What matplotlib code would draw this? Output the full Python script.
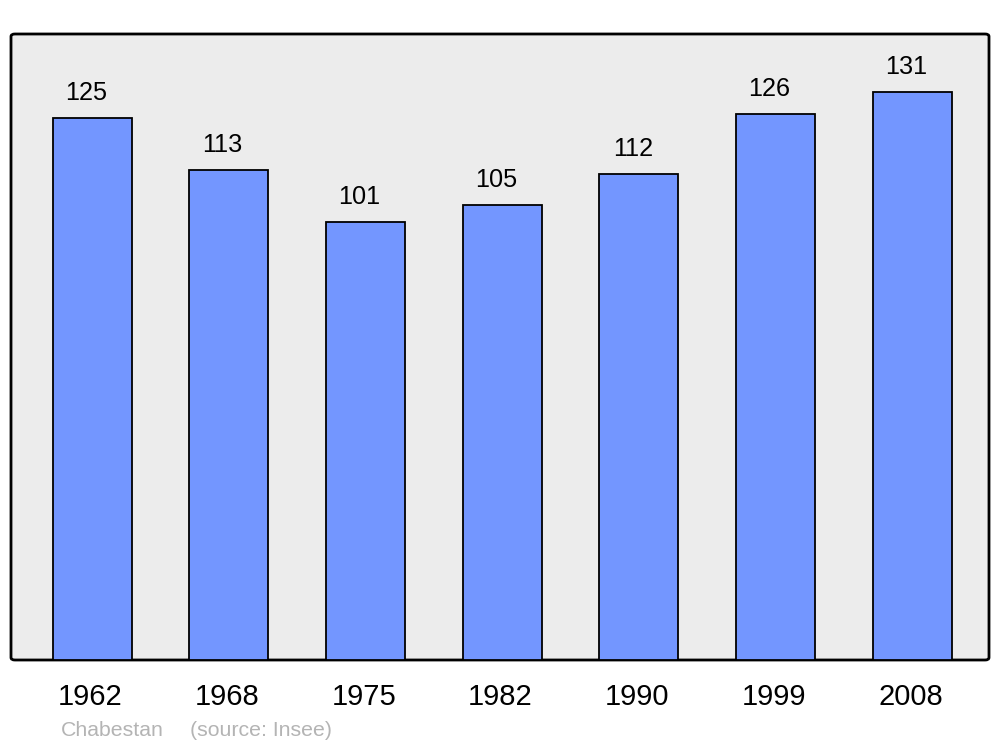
import matplotlib
matplotlib.use("Agg")
import matplotlib.pyplot as plt
from matplotlib.patches import FancyBboxPatch
from matplotlib.transforms import blended_transform_factory, offset_copy

plt.rcParams["font.family"] = ["Liberation Sans", "DejaVu Sans"]

years = ["1962", "1968", "1975", "1982", "1990", "1999", "2008"]
population = [125, 113, 101, 105, 112, 126, 131]
commune = "Chabestan"
source = "(source: Insee)"

fig = plt.figure(figsize=(10, 7.47), dpi=100)
ax = fig.add_axes([0.011, 1 - 660 / 747, 0.978, 626 / 747])
ax.set_xlim(-0.593, 6.563)
ax.set_ylim(0, 144.4)
ax.axis("off")

# rounded grey frame
frame = FancyBboxPatch((0, 0), 1, 1, boxstyle="round,pad=0,rounding_size=0.004",
                       transform=ax.transAxes, facecolor="#ececec", edgecolor="black",
                       linewidth=2, clip_on=False, zorder=0)
ax.add_patch(frame)

x = list(range(len(years)))
ax.bar(x, population, width=0.578, color="#7396ff", edgecolor="black",
       linewidth=1.3, zorder=2)

for xi, v in zip(x, population):
    ax.text(xi, v, str(v), ha="center", va="center", fontsize=18.2,
            transform=offset_copy(ax.transData, fig=fig, x=-6, y=25, units="dots"))

lab_tr = blended_transform_factory(ax.transData, fig.transFigure)
for xi, y in zip(x, years):
    ax.text(xi - 0.012, (747 - 697) / 747, y, ha="center", va="center",
            fontsize=21, transform=lab_tr)

fig.text(61 / 1000, (747 - 731) / 747, commune, ha="left", va="center",
         fontsize=15.3, color="#b4b4b4")
fig.text(190 / 1000, (747 - 731) / 747, source, ha="left", va="center",
         fontsize=15.3, color="#b4b4b4")

fig.savefig("out.png", dpi=100)
